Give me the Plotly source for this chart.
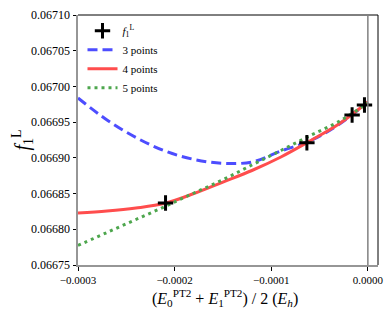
import plotly.graph_objects as go

# data points f1^L
x_pts = [-2.094e-4, -6.31e-5, -1.63e-5, -3.5e-6]
y_pts = [0.0668368, 0.0669212, 0.0669600, 0.0669740]

# extrapolation curves
x_fit = [-0.00030, -0.00027, -0.00024, -0.00021, -0.00018, -0.00015,
         -0.00012, -0.00009, -0.00006, -0.00003, 0.0]
y_fit3 = [0.0669838, 0.0669530, 0.0669285, 0.0669096, 0.0668978, 0.0668924,
          0.0668942, 0.0669096, 0.0669236, 0.0669467, 0.0669782]
y_fit4 = [0.0668228, 0.0668256, 0.0668298, 0.0668364, 0.0668501, 0.0668661,
          0.0668823, 0.0669012, 0.0669236, 0.0669474, 0.0669782]
y_fit5 = [0.0667773, 0.0667955, 0.0668137, 0.0668319, 0.0668508, 0.0668694,
          0.0668900, 0.0669103, 0.0669309, 0.0669509, 0.0669768]

x_ticks = [-0.0003, -0.0002, -0.0001, 0.0]
y_ticks = [0.06675, 0.06680, 0.06685, 0.06690, 0.06695, 0.06700, 0.06705, 0.06710]

FONT = "Liberation Serif"

fig = go.Figure()
fig.add_trace(go.Scatter(x=x_fit, y=y_fit3, mode="lines", name="3 points",
                         line=dict(color="rgb(77,77,255)", width=3, dash="10px,5px",
                                   shape="spline", smoothing=1.0), legendrank=2))
fig.add_trace(go.Scatter(x=x_fit, y=y_fit4, mode="lines", name="4 points",
                         line=dict(color="rgb(255,77,77)", width=3,
                                   shape="spline", smoothing=1.0), legendrank=3))
fig.add_trace(go.Scatter(x=x_fit, y=y_fit5, mode="lines", name="5 points",
                         line=dict(color="rgb(77,166,77)", width=3, dash="3px,4px",
                                   shape="spline", smoothing=1.0), legendrank=4))
fig.add_trace(go.Scatter(x=x_pts, y=y_pts, mode="markers",
                         name="<i>f</i><sub>1</sub><sup>L</sup>",
                         marker=dict(symbol="cross-thin", size=11, color="black",
                                     line=dict(color="black", width=3)),
                         legendrank=1))

# frame: black top/right, gray line at x=0
fig.add_shape(type="line", xref="paper", yref="paper", x0=0, x1=1, y0=1, y1=1,
              line=dict(color="black", width=1))
fig.add_shape(type="line", xref="paper", yref="paper", x0=1, x1=1, y0=0, y1=1,
              line=dict(color="black", width=1))
fig.add_shape(type="line", xref="x", yref="paper", x0=0, x1=0, y0=0, y1=1,
              line=dict(color="gray", width=1.5))

fig.add_annotation(xref="paper", yref="paper", x=0.49, y=-0.13,
                   xanchor="center", yanchor="middle", showarrow=False,
                   text="(<i>E</i><sub>0</sub><sup>PT2</sup> + <i>E</i><sub>1</sub><sup>PT2</sup>) / 2 (<i>E</i><sub><i>h</i></sub>)",
                   font=dict(family=FONT, size=16, color="black"))
fig.add_annotation(xref="paper", yref="paper", x=-0.185, y=0.5,
                   xanchor="center", yanchor="middle", showarrow=False, textangle=-90,
                   text="<i>f</i><sub>1</sub><sup>L</sup>",
                   font=dict(family=FONT, size=20, color="black"))

fig.update_layout(
    width=390, height=312,
    margin=dict(l=78, r=7, t=15, b=47),
    paper_bgcolor="white", plot_bgcolor="white",
    font=dict(family=FONT, size=12, color="black"),
    showlegend=True,
    legend=dict(x=0.015, y=0.995, xanchor="left", yanchor="top",
                bgcolor="rgba(255,255,255,0)", borderwidth=0,
                font=dict(family=FONT, size=11), itemwidth=30,
                tracegroupgap=0),
    xaxis=dict(range=[-0.0003, 0.0000105], tickvals=x_ticks, tickformat=".4f",
               showgrid=False, zeroline=False, showline=True, linecolor="rgb(150,150,150)",
               linewidth=2, ticks="outside", ticklen=3.5, tickcolor="black",
               ticklabeloverflow="allow",
               tickfont=dict(family=FONT, size=11)),
    yaxis=dict(range=[0.06675, 0.06710], tickvals=y_ticks, tickformat=".5f",
               showgrid=False, zeroline=False, showline=True, linecolor="rgb(150,150,150)",
               linewidth=2, ticks="outside", ticklen=3.5, tickcolor="black",
               tickfont=dict(family=FONT, size=12)),
)

fig.write_html("out.html", config={"displayModeBar": False},
               post_script="document.body.style.margin='0px';")
